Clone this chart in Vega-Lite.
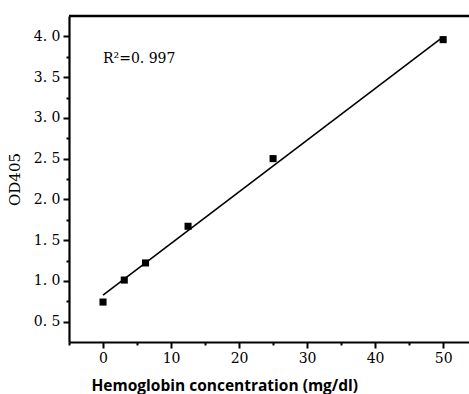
{
  "$schema": "https://vega.github.io/schema/vega-lite/v6.json",
  "width": 400,
  "height": 326,
  "autosize": {"type": "none"},
  "padding": {"left": 69, "top": 16, "right": 0, "bottom": 52},
  "background": "white",
  "config": {"view": {"stroke": null}},
  "datasets": {
    "points": [
      {"conc": 0, "od": 0.74},
      {"conc": 3.125, "od": 1.01},
      {"conc": 6.25, "od": 1.22},
      {"conc": 12.5, "od": 1.67},
      {"conc": 25, "od": 2.5},
      {"conc": 50, "od": 3.96}
    ],
    "fit": [
      {"conc": 0, "od": 0.825},
      {"conc": 50, "od": 3.995}
    ],
    "note": [
      {"conc": 0, "od": 3.72, "label": "R²=0. 997"}
    ]
  },
  "layer": [
    {
      "data": {"name": "fit"},
      "mark": {"type": "line", "color": "black", "strokeWidth": 1.6},
      "encoding": {
        "x": {
          "field": "conc", "type": "quantitative",
          "scale": {"domain": [-5, 53.8], "nice": false, "zero": false},
          "axis": {
            "values": [-5, 0, 5, 10, 15, 20, 25, 30, 35, 40, 45, 50],
            "tickCount": 50,
            "title": "Hemoglobin concentration (mg/dl)",
            "titleFont": "Open Sans", "titleFontWeight": "bold", "titleFontSize": 15.5,
            "titleColor": "black",
            "titleAnchor": "start", "titleX": 22, "titleY": 48,
            "titleBaseline": "alphabetic",
            "labelFont": "DejaVu Serif", "labelFontSize": 14, "labelColor": "black",
            "labelExpr": "abs(datum.value/10 - round(datum.value/10)) < 0.01 ? format(datum.value, 'd') : ''",
            "labelOverlap": false,
            "labelBound": false,
            "labelFlush": false,
            "labelPadding": 3,
            "domainColor": "black", "domainWidth": 2.2,
            "tickColor": "black", "tickWidth": 2,
            "tickSize": {"condition": {"test": "abs(datum.value/10 - round(datum.value/10)) < 0.01", "value": 6}, "value": 3},
            "grid": false
          }
        },
        "y": {
          "field": "od", "type": "quantitative",
          "scale": {"domain": [0.25, 4.25], "nice": false, "zero": false},
          "axis": {
            "values": [0.5, 0.75, 1.0, 1.25, 1.5, 1.75, 2.0, 2.25, 2.5, 2.75, 3.0, 3.25, 3.5, 3.75, 4.0],
            "tickCount": 50,
            "title": "OD405",
            "titleFont": "DejaVu Serif", "titleFontWeight": "normal", "titleFontSize": 15,
            "titleColor": "black", "titleX": -47,
            "labelFont": "DejaVu Serif", "labelFontSize": 14, "labelColor": "black",
            "labelExpr": "abs(datum.value*2 - round(datum.value*2)) < 0.01 ? replace(format(datum.value, '.1f'), '.', '. ') : ''",
            "labelOverlap": false,
            "labelPadding": 3,
            "domainColor": "black", "domainWidth": 2.2,
            "tickColor": "black", "tickWidth": 2,
            "tickSize": {"condition": {"test": "abs(datum.value*2 - round(datum.value*2)) < 0.01", "value": 6}, "value": 3},
            "grid": false
          }
        }
      }
    },
    {
      "data": {"name": "points"},
      "mark": {"type": "square", "color": "black", "opacity": 1, "size": 50, "filled": true},
      "encoding": {
        "x": {"field": "conc", "type": "quantitative"},
        "y": {"field": "od", "type": "quantitative"}
      }
    },
    {
      "data": {"name": "note"},
      "mark": {"type": "text", "align": "left", "baseline": "middle", "font": "DejaVu Serif", "fontSize": 14, "color": "black"},
      "encoding": {
        "x": {"field": "conc", "type": "quantitative"},
        "y": {"field": "od", "type": "quantitative"},
        "text": {"field": "label"}
      }
    },
    {
      "data": {"values": [{"v": 4.25}]},
      "mark": {"type": "rule", "color": "black", "strokeWidth": 2.5},
      "encoding": {
        "y": {"field": "v", "type": "quantitative"}
      }
    }
  ]
}
